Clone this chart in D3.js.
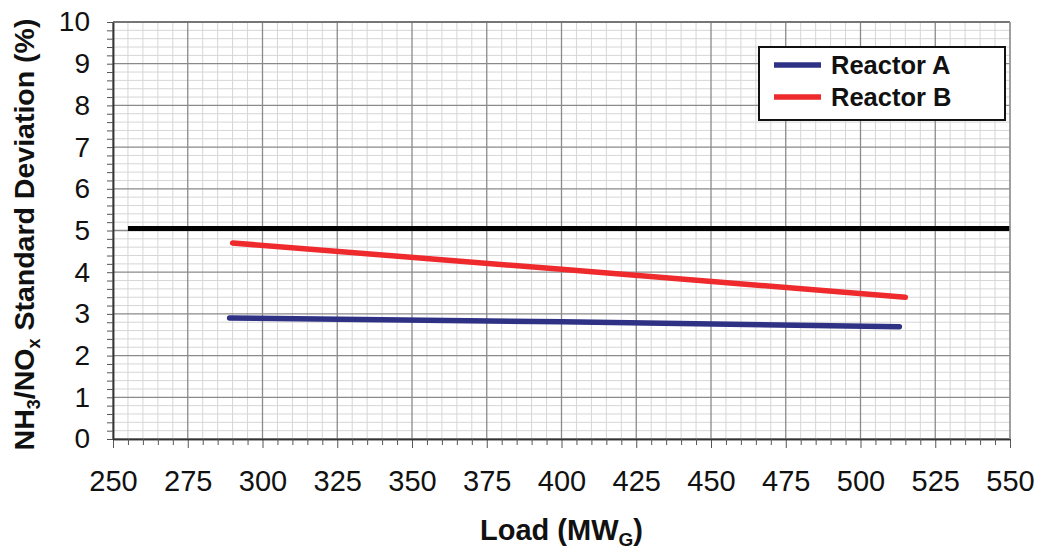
<!DOCTYPE html>
<html>
<head>
<meta charset="utf-8">
<script src="https://cdn.jsdelivr.net/npm/d3@7"></script>
<style>
  body { margin: 0; background: #fff; }
  svg { font-family: "Liberation Sans", Arial, sans-serif; }
</style>
</head>
<body>
<div id="chart"></div>
<script>
// values
const loadA = [289, 400, 513];
const reactorA = [2.90, 2.81, 2.69];
const loadB = [290, 400, 515];
const reactorB = [4.70, 4.07, 3.40];
const limitLoad = [255, 550];
const limitValue = [5.05, 5.05];
const xTicks = [250, 275, 300, 325, 350, 375, 400, 425, 450, 475, 500, 525, 550];
const yTicks = [0, 1, 2, 3, 4, 5, 6, 7, 8, 9, 10];
const seriesNames = ['Reactor A', 'Reactor B'];
const seriesColors = ['#2e3184', '#ee2a2d'];

const width = 1038, height = 552;
const margin = { left: 113, top: 22, right: 28, bottom: 113 };

const svg = d3.select('#chart').append('svg')
  .attr('width', width)
  .attr('height', height);

const x = d3.scaleLinear().domain([250, 550]).range([margin.left, width - margin.right]);
const y = d3.scaleLinear().domain([0, 10]).range([height - margin.bottom, margin.top]);

// grid
const grid = svg.append('g').attr('class', 'grid');
const minorX = d3.range(250, 551, 5).filter(d => d % 25 !== 0);
const minorY = d3.range(0, 10.01, 0.2).filter(d => Math.abs(d - Math.round(d)) > 0.01);

grid.selectAll('.vminor').data(minorX).join('line')
  .attr('x1', d => x(d)).attr('x2', d => x(d))
  .attr('y1', y(0)).attr('y2', y(10))
  .attr('stroke', '#d6d6d6').attr('stroke-width', 1);
grid.selectAll('.hminor').data(minorY).join('line')
  .attr('y1', d => y(d)).attr('y2', d => y(d))
  .attr('x1', x(250)).attr('x2', x(550))
  .attr('stroke', '#d6d6d6').attr('stroke-width', 1);
grid.selectAll('.vmajor').data(xTicks).join('line')
  .attr('x1', d => x(d)).attr('x2', d => x(d))
  .attr('y1', y(0)).attr('y2', y(10))
  .attr('stroke', '#8a8a8a').attr('stroke-width', 1.3);
grid.selectAll('.hmajor').data(yTicks).join('line')
  .attr('y1', d => y(d)).attr('y2', d => y(d))
  .attr('x1', x(250)).attr('x2', x(550))
  .attr('stroke', '#8a8a8a').attr('stroke-width', 1.3);

// lines
const line = d3.line().x(d => x(d[0])).y(d => y(d[1]));

svg.append('path')
  .datum(d3.zip(limitLoad, limitValue))
  .attr('d', line)
  .attr('fill', 'none')
  .attr('stroke', '#000')
  .attr('stroke-width', 5);

svg.append('path')
  .datum(d3.zip(loadA, reactorA))
  .attr('d', line)
  .attr('fill', 'none')
  .attr('stroke', seriesColors[0])
  .attr('stroke-width', 5.5)
  .attr('stroke-linecap', 'round');

svg.append('path')
  .datum(d3.zip(loadB, reactorB))
  .attr('d', line)
  .attr('fill', 'none')
  .attr('stroke', seriesColors[1])
  .attr('stroke-width', 5.5)
  .attr('stroke-linecap', 'round');

// axes
const xAxis = svg.append('g')
  .attr('transform', `translate(0 ${y(0)})`)
  .call(d3.axisBottom(x).tickValues(xTicks).tickSize(9).tickSizeOuter(0).tickPadding(22));
svg.append('g')
  .attr('transform', `translate(0 ${y(0)})`)
  .call(d3.axisBottom(x).tickValues(minorX).tickSize(6).tickSizeOuter(0).tickFormat(''));

const yAxis = svg.append('g')
  .attr('transform', `translate(${x(250)} 0)`)
  .call(d3.axisLeft(y).tickValues(yTicks).tickSize(6).tickSizeOuter(0).tickPadding(17));
svg.append('g')
  .attr('transform', `translate(${x(250)} 0)`)
  .call(d3.axisLeft(y).tickValues(minorY).tickSize(6).tickSizeOuter(0).tickFormat(''));

svg.selectAll('.domain').attr('stroke', '#333').attr('stroke-width', 1.5);
svg.selectAll('.tick line').attr('stroke', '#555');
xAxis.selectAll('text').attr('font-size', 29).attr('fill', '#111').attr('font-family', null);
yAxis.selectAll('text').attr('font-size', 28).attr('fill', '#111').attr('font-family', null);

// top and right border
svg.append('line')
  .attr('x1', x(250)).attr('x2', x(550)).attr('y1', y(10)).attr('y2', y(10))
  .attr('stroke', '#666').attr('stroke-width', 1.5);
svg.append('line')
  .attr('x1', x(550)).attr('x2', x(550)).attr('y1', y(0)).attr('y2', y(10))
  .attr('stroke', '#999').attr('stroke-width', 1.5);

// axis titles
const xTitle = svg.append('text')
  .attr('x', (x(250) + x(550)) / 2)
  .attr('y', 540)
  .attr('text-anchor', 'middle')
  .attr('font-size', 29)
  .attr('font-weight', 'bold')
  .attr('fill', '#111');
xTitle.append('tspan').text('Load (MW');
xTitle.append('tspan').attr('font-size', 19).attr('dy', 6).text('G');
xTitle.append('tspan').attr('dy', -6).text(')');

const yTitle = svg.append('text')
  .attr('transform', `translate(34 ${(y(0) + y(10)) / 2 + 4}) rotate(-90)`)
  .attr('text-anchor', 'middle')
  .attr('font-size', 28.5)
  .attr('font-weight', 'bold')
  .attr('fill', '#111');
yTitle.append('tspan').text('NH');
yTitle.append('tspan').attr('font-size', 18).attr('dy', 6).text('3');
yTitle.append('tspan').attr('dy', -6).text('/NO');
yTitle.append('tspan').attr('font-size', 18).attr('dy', 6).text('x');
yTitle.append('tspan').attr('dy', -6).text(' Standard Deviation (%)');

// legend
const legend = svg.append('g').attr('transform', 'translate(759 47)');
legend.append('rect')
  .attr('width', 246).attr('height', 73)
  .attr('fill', '#fff').attr('stroke', '#111').attr('stroke-width', 2);
const rows = legend.selectAll('.row').data(seriesNames).join('g')
  .attr('transform', (d, i) => `translate(0 ${18 + i * 32})`);
rows.append('line')
  .attr('x1', 15).attr('x2', 62)
  .attr('stroke', (d, i) => seriesColors[i])
  .attr('stroke-width', 5.5);
rows.append('text')
  .attr('x', 72).attr('dy', '0.36em')
  .attr('font-size', 25.5).attr('font-weight', 'bold')
  .attr('fill', '#111')
  .text(d => d);
</script>
</body>
</html>
